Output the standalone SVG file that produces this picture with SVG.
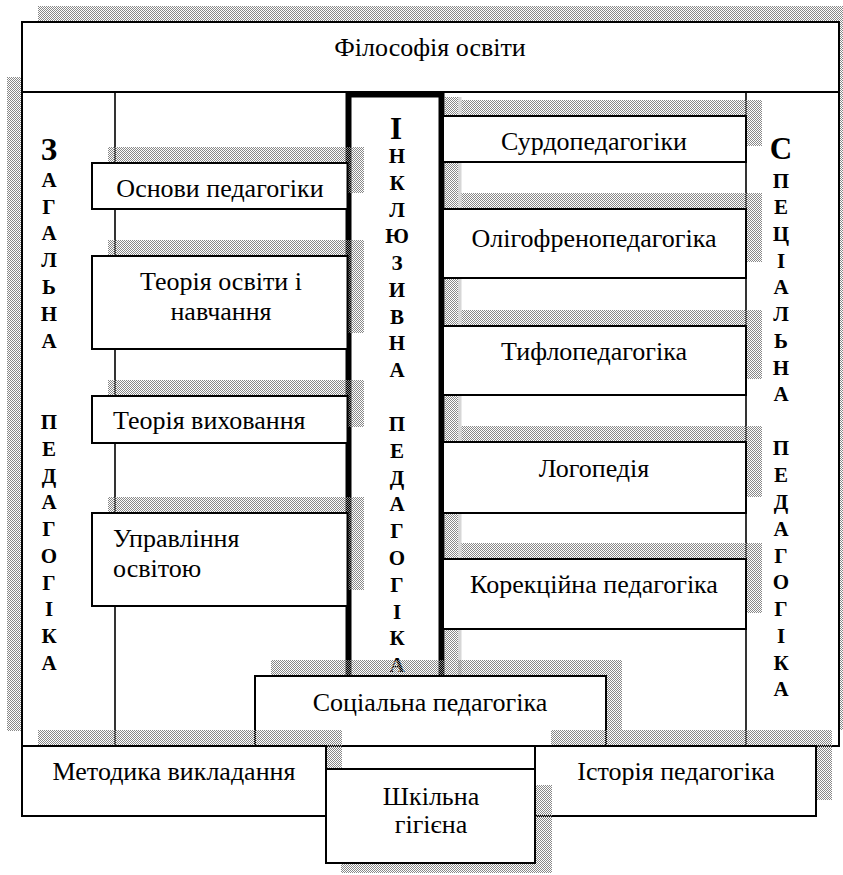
<svg xmlns="http://www.w3.org/2000/svg" width="843" height="875" viewBox="0 0 843 875">
<defs>
<pattern id="sh" width="2" height="2" patternUnits="userSpaceOnUse">
<rect x="0" y="0" width="1" height="1" fill="#888"/>
<rect x="1" y="1" width="1" height="1" fill="#888"/>
</pattern>
<style>
.box{fill:#fff;stroke:#000;stroke-width:2}
.shd{fill:url(#sh)}
.t{font-family:"Liberation Serif","Times New Roman",serif;font-size:26px;fill:#000}
.c{text-anchor:middle}
.v{font-family:"Liberation Serif","Times New Roman",serif;font-weight:bold;font-size:21px;fill:#000;text-anchor:middle}
.vb{font-size:31px}
.ln{stroke:#000;stroke-width:1.6;fill:none}
</style>
</defs>
<rect width="843" height="875" fill="#fff"/>

<g id="back-shadows">
<rect class="shd" x="38" y="6" width="817" height="70"/>
<rect class="shd" x="7" y="77" width="817" height="654"/>
<rect class="shd" x="762" y="76" width="94" height="654"/>
</g>

<g id="frame">
<rect class="box" x="22" y="92" width="817" height="654"/>
</g>

<g id="philosophy">
<rect class="box" x="22" y="22" width="817" height="70"/>
<text class="t c" x="430" y="56">Філософія освіти</text>
</g>

<g id="connectors">
<line class="ln" x1="115" y1="92" x2="115" y2="746"/>
<line class="ln" x1="746" y1="92" x2="746" y2="746"/>
</g>

<g id="general">
<text class="v vb" x="49" y="160">З</text>
<text class="v" x="49" y="187">А</text>
<text class="v" x="49" y="214">Г</text>
<text class="v" x="49" y="240">А</text>
<text class="v" x="49" y="267">Л</text>
<text class="v" x="49" y="294">Ь</text>
<text class="v" x="49" y="321">Н</text>
<text class="v" x="49" y="348">А</text>
<text class="v" x="49" y="429">П</text>
<text class="v" x="49" y="456">Е</text>
<text class="v" x="49" y="483">Д</text>
<text class="v" x="49" y="509">А</text>
<text class="v" x="49" y="536">Г</text>
<text class="v" x="49" y="563">О</text>
<text class="v" x="49" y="590">Г</text>
<text class="v" x="49" y="616">І</text>
<text class="v" x="49" y="643">К</text>
<text class="v" x="49" y="670">А</text>
</g>

<g id="special">
<text class="v vb" x="781" y="159">С</text>
<text class="v" x="781" y="188">П</text>
<text class="v" x="781" y="214">Е</text>
<text class="v" x="781" y="241">Ц</text>
<text class="v" x="781" y="268">І</text>
<text class="v" x="781" y="294">А</text>
<text class="v" x="781" y="321">Л</text>
<text class="v" x="781" y="348">Ь</text>
<text class="v" x="781" y="375">Н</text>
<text class="v" x="781" y="401">А</text>
<text class="v" x="781" y="455">П</text>
<text class="v" x="781" y="482">Е</text>
<text class="v" x="781" y="509">Д</text>
<text class="v" x="781" y="536">А</text>
<text class="v" x="781" y="563">Г</text>
<text class="v" x="781" y="589">О</text>
<text class="v" x="781" y="616">Г</text>
<text class="v" x="781" y="643">І</text>
<text class="v" x="781" y="670">К</text>
<text class="v" x="781" y="696">А</text>
</g>

<g id="inclusive">
<rect class="shd" x="445" y="97" width="13" height="580"/>
<rect x="348.5" y="94.5" width="93" height="600" fill="#fff" stroke="#000" stroke-width="6"/>
<text class="v vb" x="396" y="139">І</text>
<text class="v" x="397" y="163">Н</text>
<text class="v" x="397" y="190">К</text>
<text class="v" x="397" y="217">Л</text>
<text class="v" x="397" y="243">Ю</text>
<text class="v" x="397" y="270">З</text>
<text class="v" x="397" y="297">И</text>
<text class="v" x="397" y="324">В</text>
<text class="v" x="397" y="350">Н</text>
<text class="v" x="397" y="377">А</text>
<text class="v" x="397" y="431">П</text>
<text class="v" x="397" y="458">Е</text>
<text class="v" x="397" y="485">Д</text>
<text class="v" x="397" y="511">А</text>
<text class="v" x="397" y="538">Г</text>
<text class="v" x="397" y="565">О</text>
<text class="v" x="397" y="592">Г</text>
<text class="v" x="397" y="619">І</text>
<text class="v" x="397" y="645">К</text>
<text class="v" x="397" y="672">А</text>
</g>

<g id="right-shadows">
<rect class="shd" x="459" y="100" width="303" height="46"/>
<rect class="shd" x="459" y="193" width="303" height="69"/>
<rect class="shd" x="459" y="310" width="303" height="69"/>
<rect class="shd" x="459" y="426" width="303" height="71"/>
<rect class="shd" x="459" y="543" width="303" height="70"/>
<rect x="458" y="97" width="3.5" height="579" fill="#d6d6d6"/>
</g>

<g id="surdo">
<rect class="box" x="443" y="116" width="303" height="46"/>
<text class="t c" x="594" y="150">Сурдопедагогіки</text>
</g>
<g id="oligo">
<rect class="box" x="443" y="209" width="303" height="69"/>
<text class="t c" x="594" y="247">Олігофренопедагогіка</text>
</g>
<g id="tyflo">
<rect class="box" x="443" y="326" width="303" height="69"/>
<text class="t c" x="594" y="360">Тифлопедагогіка</text>
</g>
<g id="logo">
<rect class="box" x="443" y="442" width="303" height="71"/>
<text class="t c" x="594" y="477">Логопедія</text>
</g>
<g id="correction">
<rect class="box" x="443" y="559" width="303" height="70"/>
<text class="t c" x="594" y="593">Корекційна педагогіка</text>
</g>

<g id="left-shadows">
<rect class="shd" x="108" y="147" width="256" height="46"/>
<rect class="shd" x="108" y="240" width="256" height="93"/>
<rect class="shd" x="108" y="380" width="256" height="47"/>
<rect class="shd" x="108" y="497" width="256" height="93"/>
</g>

<g id="basics">
<rect class="box" x="92" y="163" width="255.5" height="46"/>
<text class="t c" x="220" y="197">Основи педагогіки</text>
</g>
<g id="theory-education">
<rect class="box" x="92" y="256" width="255.5" height="93"/>
<text class="t c" x="221" y="290">Теорія освіти і</text>
<text class="t c" x="221" y="320">навчання</text>
</g>
<g id="theory-upbringing">
<rect class="box" x="92" y="396" width="255.5" height="47"/>
<text class="t" x="113" y="429">Теорія виховання</text>
</g>
<g id="management">
<rect class="box" x="92" y="513" width="255.5" height="93"/>
<text class="t" x="113" y="547">Управління</text>
<text class="t" x="113" y="577">освітою</text>
</g>

<g id="social">
<rect class="shd" x="271" y="660" width="351" height="70"/>
<rect class="box" x="255" y="676" width="351" height="70"/>
<text class="t c" x="430" y="711">Соціальна педагогіка</text>
</g>

<g id="bottom-shadows">
<rect class="shd" x="38" y="730" width="304" height="70"/>
<rect class="shd" x="551" y="730" width="281" height="70"/>
</g>

<g id="methods">
<rect class="box" x="22" y="746" width="304" height="70"/>
<text class="t c" x="174" y="780">Методика викладання</text>
</g>
<g id="history">
<rect class="box" x="535" y="746" width="281" height="70"/>
<text class="t c" x="676" y="780">Історія педагогіка</text>
</g>

<g id="hygiene">
<rect class="shd" x="341" y="785" width="211" height="88"/>
<rect class="box" x="326" y="769" width="209" height="94"/>
<text class="t c" x="431" y="805">Шкільна</text>
<text class="t c" x="431" y="833">гігієна</text>
</g>
</svg>
